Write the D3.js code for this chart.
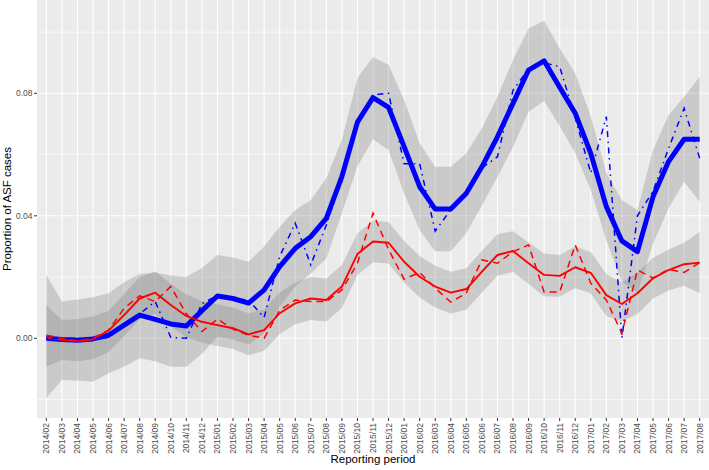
<!DOCTYPE html>
<html>
<head>
<meta charset="utf-8">
<script src="https://cdn.jsdelivr.net/npm/d3@7"></script>
<style>
  html, body { margin: 0; padding: 0; background: #ffffff; }
  svg { display: block; font-family: "Liberation Sans", Arial, sans-serif; }
</style>
</head>
<body>
<svg id="chart" width="709" height="470"></svg>
<script>
const categories = ["2014/02","2014/03","2014/04","2014/05","2014/06","2014/07","2014/08","2014/09","2014/10","2014/11","2014/12",
  "2015/01","2015/02","2015/03","2015/04","2015/05","2015/06","2015/07","2015/08","2015/09","2015/10","2015/11","2015/12",
  "2016/01","2016/02","2016/03","2016/04","2016/05","2016/06","2016/07","2016/08","2016/09","2016/10","2016/11","2016/12",
  "2017/01","2017/02","2017/03","2017/04","2017/05","2017/06","2017/07","2017/08"];

const blueFit = [0.0000,-0.0004,-0.0006,-0.0002,0.0010,0.0043,0.0076,0.0062,0.0047,0.0040,0.0090,
  0.0138,0.0130,0.0115,0.0158,0.0234,0.0294,0.0332,0.0392,0.0528,0.0706,0.0786,0.0754,
  0.0626,0.0495,0.0422,0.0422,0.0474,0.0560,0.0658,0.0767,0.0876,0.0906,0.0820,0.0735,
  0.0604,0.0430,0.0318,0.0283,0.0462,0.0577,0.0650,0.0650];
const blueObs = [0.0000,0.0000,0.0000,0.0000,0.0003,0.0040,0.0080,0.0120,0.0003,0.0000,0.0113,
  0.0140,0.0130,0.0125,0.0068,0.0267,0.0376,0.0240,0.0370,0.0525,0.0710,0.0795,0.0800,
  0.0570,0.0570,0.0350,0.0420,0.0470,0.0556,0.0593,0.0810,0.0880,0.0900,0.0887,0.0720,
  0.0540,0.0724,0.0000,0.0400,0.0480,0.0620,0.0751,0.0588];
const blueUpper = [0.0207,0.0120,0.0127,0.0134,0.0147,0.0183,0.0210,0.0215,0.0205,0.0200,0.0230,
  0.0272,0.0264,0.0250,0.0300,0.0364,0.0419,0.0452,0.0523,0.0648,0.0850,0.0918,0.0893,
  0.0778,0.0637,0.0560,0.0560,0.0604,0.0686,0.0789,0.0909,0.1012,0.1037,0.0947,0.0865,
  0.0724,0.0540,0.0452,0.0419,0.0615,0.0729,0.0789,0.0854];
const blueLower = [-0.0196,-0.0136,-0.0138,-0.0142,-0.0114,-0.0093,-0.0065,-0.0075,-0.0093,-0.0093,-0.0050,
  0.0005,-0.0004,-0.0020,0.0016,0.0104,0.0169,0.0212,0.0261,0.0408,0.0562,0.0650,0.0615,
  0.0474,0.0353,0.0284,0.0284,0.0344,0.0434,0.0527,0.0625,0.0740,0.0775,0.0693,0.0605,
  0.0484,0.0320,0.0184,0.0150,0.0309,0.0425,0.0511,0.0446];

const redFit = [0.0003,-0.0005,-0.0010,-0.0003,0.0025,0.0076,0.0130,0.0149,0.0109,0.0073,0.0054,
  0.0043,0.0033,0.0013,0.0027,0.0082,0.0114,0.0130,0.0125,0.0169,0.0275,0.0316,0.0312,
  0.0250,0.0201,0.0169,0.0149,0.0161,0.0218,0.0272,0.0285,0.0245,0.0207,0.0204,0.0232,
  0.0214,0.0141,0.0112,0.0147,0.0196,0.0223,0.0242,0.0247];
const redObs = [0.0010,0.0000,-0.0008,0.0000,0.0027,0.0098,0.0139,0.0120,0.0169,0.0080,0.0022,
  0.0063,0.0030,0.0010,0.0000,0.0092,0.0125,0.0120,0.0120,0.0158,0.0245,0.0409,0.0290,
  0.0193,0.0215,0.0164,0.0118,0.0148,0.0256,0.0245,0.0283,0.0305,0.0151,0.0151,0.0305,
  0.0180,0.0125,0.0016,0.0223,0.0197,0.0225,0.0215,0.0247];
const redUpper = [0.0109,0.0060,0.0062,0.0071,0.0090,0.0145,0.0200,0.0218,0.0178,0.0143,0.0122,
  0.0111,0.0101,0.0081,0.0095,0.0150,0.0182,0.0200,0.0195,0.0239,0.0343,0.0384,0.0380,
  0.0318,0.0269,0.0237,0.0217,0.0229,0.0286,0.0340,0.0350,0.0313,0.0277,0.0272,0.0300,
  0.0282,0.0209,0.0182,0.0215,0.0262,0.0290,0.0312,0.0347];
const redLower = [-0.0093,-0.0071,-0.0075,-0.0068,-0.0045,0.0007,0.0062,0.0080,0.0040,0.0003,-0.0014,
  -0.0025,-0.0035,-0.0055,-0.0041,0.0014,0.0046,0.0060,0.0055,0.0099,0.0207,0.0248,0.0244,
  0.0182,0.0133,0.0101,0.0081,0.0093,0.0150,0.0204,0.0217,0.0177,0.0137,0.0136,0.0164,
  0.0146,0.0073,0.0055,0.0079,0.0130,0.0156,0.0172,0.0147];

const yTicks = [0.00, 0.04, 0.08];
const yMinor = [-0.02, 0.02, 0.06, 0.10];
const xTitle = "Reporting period";
const yTitle = "Proportion of ASF cases";

const panel = {left: 37, right: 709, top: 0, bottom: 418};
const svg = d3.select("#chart");

const x = d3.scalePoint().domain(categories).range([panel.left, panel.right]).padding(0.6);
const y = d3.scaleLinear().domain([-0.02602, 0.11047]).range([panel.bottom, panel.top]);

// panel background
svg.append("rect").attr("x", panel.left).attr("y", panel.top)
  .attr("width", panel.right - panel.left).attr("height", panel.bottom - panel.top)
  .attr("fill", "#EBEBEB");

const grid = svg.append("g");
grid.selectAll("line.minor").data(yMinor).join("line")
  .attr("x1", panel.left).attr("x2", panel.right)
  .attr("y1", d => y(d)).attr("y2", d => y(d))
  .attr("stroke", "#ffffff").attr("stroke-width", 0.6);
grid.selectAll("line.majy").data(yTicks).join("line")
  .attr("x1", panel.left).attr("x2", panel.right)
  .attr("y1", d => y(d)).attr("y2", d => y(d))
  .attr("stroke", "#ffffff").attr("stroke-width", 1.1);
grid.selectAll("line.majx").data(categories).join("line")
  .attr("x1", d => x(d)).attr("x2", d => x(d))
  .attr("y1", panel.top).attr("y2", panel.bottom)
  .attr("stroke", "#ffffff").attr("stroke-width", 1.1);

const idx = d3.range(categories.length);
function ribbon(lo, hi) {
  return d3.area().x(i => x(categories[i])).y0(i => y(lo[i])).y1(i => y(hi[i]))(idx);
}
function line(vals) {
  return d3.line().x(i => x(categories[i])).y(i => y(vals[i]))(idx);
}

svg.append("path").attr("d", ribbon(blueLower, blueUpper)).attr("fill", "#7F7F7F").attr("fill-opacity", 0.3);
svg.append("path").attr("d", ribbon(redLower, redUpper)).attr("fill", "#7F7F7F").attr("fill-opacity", 0.3);

svg.append("path").attr("d", line(blueFit)).attr("fill", "none").attr("stroke", "#0000FF")
  .attr("stroke-width", 5).attr("stroke-linejoin", "round");
svg.append("path").attr("d", line(redFit)).attr("fill", "none").attr("stroke", "#FF0000")
  .attr("stroke-width", 1.9).attr("stroke-linejoin", "round");
svg.append("path").attr("d", line(blueObs)).attr("fill", "none").attr("stroke", "#0000FF")
  .attr("stroke-width", 1.5).attr("stroke-dasharray", "1.5,4.5,6,4.5");
svg.append("path").attr("d", line(redObs)).attr("fill", "none").attr("stroke", "#FF0000")
  .attr("stroke-width", 1.5).attr("stroke-dasharray", "7,5");

// y axis
const yAxis = svg.append("g");
yAxis.selectAll("line").data(yTicks).join("line")
  .attr("x1", panel.left - 3).attr("x2", panel.left)
  .attr("y1", d => y(d)).attr("y2", d => y(d))
  .attr("stroke", "#333333").attr("stroke-width", 1);
yAxis.selectAll("text").data(yTicks).join("text")
  .attr("x", panel.left - 4.5).attr("y", d => y(d)).attr("dy", "0.35em")
  .attr("text-anchor", "end").attr("font-size", "8.5px").attr("fill", "#4D4D4D")
  .text(d => d3.format(".2f")(d));

// x axis
const xAxis = svg.append("g");
xAxis.selectAll("line").data(categories).join("line")
  .attr("x1", d => x(d)).attr("x2", d => x(d))
  .attr("y1", panel.bottom).attr("y2", panel.bottom + 3)
  .attr("stroke", "#333333").attr("stroke-width", 1);
xAxis.selectAll("text").data(categories).join("text")
  .attr("transform", d => `translate(${x(d) + 3},${panel.bottom + 5}) rotate(-90)`)
  .attr("text-anchor", "end").attr("font-size", "8.5px").attr("fill", "#4D4D4D")
  .text(d => d);

svg.append("text").attr("x", (panel.left + panel.right) / 2).attr("y", 463)
  .attr("text-anchor", "middle").attr("font-size", "11.5px").attr("fill", "#000")
  .text(xTitle);
svg.append("text").attr("transform", `translate(11,${(panel.top + panel.bottom) / 2}) rotate(-90)`)
  .attr("text-anchor", "middle").attr("font-size", "11.5px").attr("fill", "#000")
  .text(yTitle);
</script>
</body>
</html>
